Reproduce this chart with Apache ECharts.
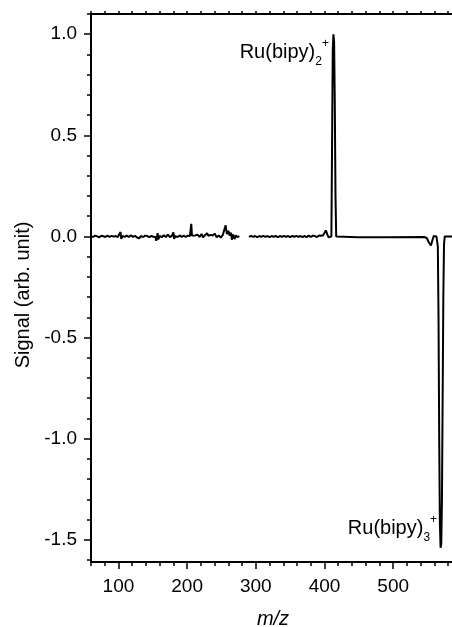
<!DOCTYPE html>
<html lang="en">

<head>
    <meta charset="UTF-8">
    <title>Ru(bipy) mass spectrum</title>
    <script src="https://cdn.jsdelivr.net/npm/echarts@6/dist/echarts.min.js"></script>
    <style>
        html, body {
            margin: 0;
            padding: 0;
            background: #fff;
        }

        #chart {
            width: 452px;
            height: 627px;
        }
    </style>
</head>

<body>
    <div id="chart"></div>
    <script>
        // tick labels
        var xTicks = [100, 200, 300, 400, 500];
        var yTicks = [-1.5, -1.0, -0.5, 0.0, 0.5, 1.0];
        var yMinor = [-1.6, -1.5, -1.4, -1.3, -1.2, -1.1, -1.0, -0.9, -0.8, -0.7, -0.6, -0.5, -0.4, -0.3, -0.2, -0.1,
            0.0, 0.1, 0.2, 0.3, 0.4, 0.5, 0.6, 0.7, 0.8, 0.9, 1.0, 1.1];

        // m/z, signal - low mass part
        var lowMass = [
            [60, 0.002], [63, -0.003], [66, 0.004], [69, 0.0], [72, -0.004], [75, 0.003], [78, 0.001], [81, -0.003],
            [84, 0.004], [87, -0.002], [90, 0.003], [93, -0.001], [96, 0.002], [99, -0.003], [101, 0.004], [103, 0.022],
            [104, -0.012], [106, 0.003], [109, -0.002], [112, 0.004], [115, -0.003], [118, 0.006], [121, -0.002],
            [124, 0.003], [127, -0.005], [130, -0.009], [133, 0.002], [136, -0.003], [139, 0.004], [142, 0.002],
            [145, -0.004], [148, 0.003], [151, -0.002], [154, -0.004], [155, -0.022], [157, 0.016], [158, -0.015],
            [160, 0.003], [163, -0.004], [166, 0.006], [169, -0.003], [172, 0.009], [175, -0.004], [178, 0.004],
            [180, 0.02], [181, -0.012], [183, 0.002], [186, -0.003], [189, 0.005], [192, -0.002], [195, 0.004],
            [198, -0.003], [201, 0.004], [204, 0.002], [206, 0.062], [207, 0.004], [209, -0.003], [212, 0.005],
            [215, 0.009], [218, -0.002], [221, 0.012], [223, -0.004], [226, 0.006], [229, 0.016], [231, 0.003],
            [234, 0.008], [237, 0.004], [240, 0.014], [243, -0.004], [246, 0.005], [249, -0.006], [252, 0.008],
            [254, 0.004], [256, 0.055], [257, 0.03], [258, 0.012], [260, 0.028], [262, 0.004], [264, 0.018],
            [265, -0.016], [267, 0.01], [269, -0.013], [271, 0.006], [273, -0.004], [276, 0.002]
        ];
        // high mass part, both Ru peaks
        var highMass = [
            [290, -0.002], [293, 0.003], [296, -0.002], [299, 0.002], [302, -0.004], [303, -0.011], [305, 0.002],
            [308, -0.002], [311, 0.003], [314, -0.002], [317, 0.002], [320, -0.003], [323, 0.002], [326, -0.002],
            [329, 0.003], [332, -0.004], [333, -0.01], [335, 0.002], [338, -0.002], [341, 0.003], [344, -0.002],
            [347, 0.002], [350, -0.003], [353, 0.003], [356, -0.002], [359, 0.003], [362, -0.002], [365, 0.002],
            [368, -0.003], [371, 0.003], [374, -0.004], [377, 0.004], [380, -0.003], [383, 0.004], [386, 0.002],
            [389, -0.003], [392, 0.005], [395, 0.003], [398, 0.006], [400, 0.012], [402, 0.03], [404, 0.01],
            [406, -0.004], [408, 0.0], [410, 0.0], [411, 0.45], [412, 0.92], [413, 1.0], [414, 0.96], [415, 0.65],
            [416, 0.2], [417, 0.0], [418, -0.003], [448, -0.004], [449, -0.003], [490, -0.004], [491, -0.003],
            [545, -0.003], [549, -0.008], [552, -0.03], [555, -0.045], [557, -0.02], [559, 0.002], [561, 0.006],
            [563, 0.0], [565, -0.05], [566, -0.4], [567, -1.0], [568, -1.42], [569, -1.54], [570, -1.52],
            [571, -1.3], [572, -0.8], [573, -0.3], [574, -0.04], [575, 0.0], [580, 0.0], [586, 0.0]
        ];

        var font = "'Liberation Sans', Arial, sans-serif";
        var spectrum = lowMass.concat([[283, null]], highMass);

        var richLabel = {
            m: { fontSize: 20, lineHeight: 30, color: '#000', fontFamily: font },
            sub: { fontSize: 12, lineHeight: 12, verticalAlign: 'bottom', color: '#000', fontFamily: font },
            sup: { fontSize: 12, lineHeight: 12, verticalAlign: 'top', color: '#000', fontFamily: font }
        };

        var myChart = echarts.init(document.getElementById('chart'));
        var option = {
            animation: false,
            backgroundColor: '#fff',
            grid: {
                left: 91,
                top: 14,
                width: 364,
                height: 548,
                outerBoundsMode: 'none'
            },
            xAxis: [
                {
                    type: 'value',
                    min: 60,
                    max: 590,
                    position: 'bottom',
                    name: 'm/z',
                    nameLocation: 'middle',
                    nameGap: 47,
                    nameTextStyle: { fontSize: 20, fontStyle: 'italic', color: '#000', fontFamily: font },
                    axisLine: { onZero: false, lineStyle: { color: '#000', width: 2 } },
                    axisTick: { customValues: xTicks, length: 7, lineStyle: { color: '#000', width: 1.5 } },
                    axisLabel: {
                        customValues: xTicks, margin: 15, fontSize: 19, color: '#000', fontFamily: font
                    },
                    splitLine: { show: false }
                },
                {
                    // minor ticks
                    type: 'value',
                    min: 60,
                    max: 590,
                    interval: 20,
                    position: 'bottom',
                    axisLine: { show: false, onZero: false },
                    axisTick: { length: 4, lineStyle: { color: '#000', width: 1.5 } },
                    axisLabel: { show: false },
                    splitLine: { show: false }
                },
                {
                    type: 'value',
                    min: 60,
                    max: 590,
                    interval: 20,
                    position: 'top',
                    axisLine: { onZero: false, lineStyle: { color: '#000', width: 2 } },
                    axisTick: { length: 3, lineStyle: { color: '#000', width: 1.5 } },
                    axisLabel: { show: false },
                    splitLine: { show: false }
                }
            ],
            yAxis: [
                {
                    type: 'value',
                    min: -1.61,
                    max: 1.1,
                    position: 'left',
                    name: 'Signal (arb. unit)',
                    nameLocation: 'middle',
                    nameGap: 55,
                    nameTextStyle: { fontSize: 20, color: '#000', fontFamily: font, padding: [0, 14, 0, 0] },
                    axisLine: { onZero: false, lineStyle: { color: '#000', width: 2 } },
                    axisTick: { customValues: yTicks, length: 7, lineStyle: { color: '#000', width: 1.5 } },
                    axisLabel: {
                        customValues: yTicks, margin: 14, fontSize: 19, color: '#000', fontFamily: font,
                        formatter: function (v) { return v.toFixed(1); }
                    },
                    splitLine: { show: false }
                },
                {
                    type: 'value',
                    min: -1.61,
                    max: 1.1,
                    position: 'left',
                    axisLine: { show: false, onZero: false },
                    axisTick: { customValues: yMinor, length: 4, lineStyle: { color: '#000', width: 1.5 } },
                    axisLabel: { show: false },
                    splitLine: { show: false }
                }
            ],
            series: [{
                type: 'line',
                xAxisIndex: 0,
                yAxisIndex: 0,
                data: spectrum,
                showSymbol: false,
                connectNulls: false,
                lineStyle: { color: '#000', width: 2 },
                markPoint: {
                    symbol: 'circle',
                    symbolSize: 1,
                    itemStyle: { color: 'rgba(0,0,0,0)' },
                    data: [
                        {
                            coord: [413, 1.0],
                            label: {
                                show: true, position: 'left', distance: 4, offset: [0, 18],
                                formatter: '{m|Ru(bipy)}{sub|2}{sup|+}', rich: richLabel
                            }
                        },
                        {
                            coord: [569, -1.54],
                            label: {
                                show: true, position: 'left', distance: 3, offset: [0, -19],
                                formatter: '{m|Ru(bipy)}{sub|3}{sup|+}', rich: richLabel
                            }
                        }
                    ]
                }
            }]
        };
        myChart.setOption(option);
    </script>
</body>

</html>
